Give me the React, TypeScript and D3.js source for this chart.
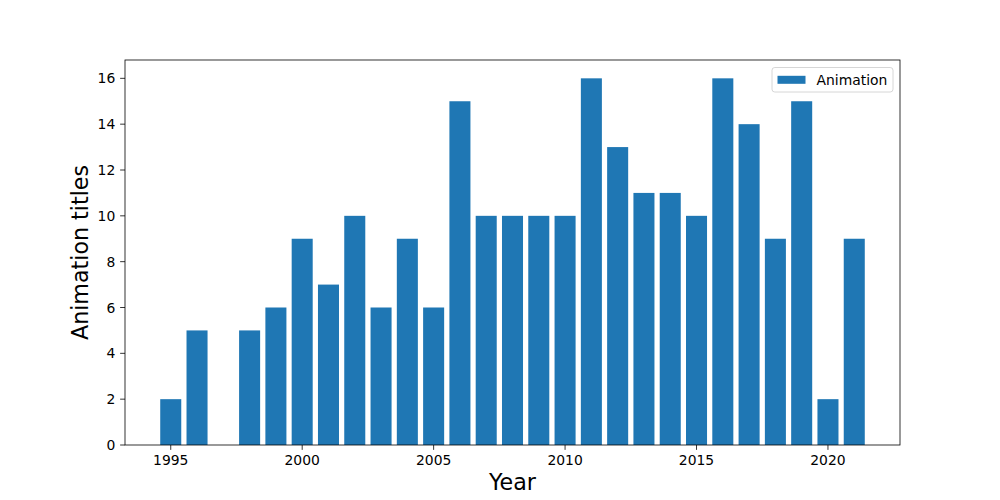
import React from "react";
import * as d3 from "d3";

const years = [1995, 1996, 1998, 1999, 2000, 2001, 2002, 2003, 2004, 2005, 2006, 2007, 2008, 2009, 2010, 2011, 2012, 2013, 2014, 2015, 2016, 2017, 2018, 2019, 2020, 2021];
const counts = [2, 5, 5, 6, 9, 7, 10, 6, 9, 6, 15, 10, 10, 10, 10, 16, 13, 11, 11, 10, 16, 14, 9, 15, 2, 9];
const xTicks = [1995, 2000, 2005, 2010, 2015, 2020];
const yTicks = [0, 2, 4, 6, 8, 10, 12, 14, 16];
const seriesName = "Animation";
const xLabel = "Year";
const yLabel = "Animation titles";

export default function App() {
  const W = 1000, H = 500;
  const L = 125, R = 900, T = 60, B = 445;
  const barW = 0.8;
  const xmin = d3.min(years)! - barW / 2, xmax = d3.max(years)! + barW / 2;
  const pad = (xmax - xmin) * 0.05;
  const x = d3.scaleLinear().domain([xmin - pad, xmax + pad]).range([L, R]);
  const ymax = d3.max(counts)! * 1.05;
  const y = d3.scaleLinear().domain([0, ymax]).range([B, T]);
  const color = "#1f77b4";
  const font = "DejaVu Sans, sans-serif";
  const fs = 13.9;
  return (
    <svg width={W} height={H} style={{ position: "absolute", left: 0, top: 0, background: "#fff" }} fontFamily={font}>
      <rect x={0} y={0} width={W} height={H} fill="#fff" />
      {years.map((yr, i) => (
        <rect key={yr} x={x(yr - barW / 2)} y={y(counts[i])} width={x(yr + barW / 2) - x(yr - barW / 2)} height={B - y(counts[i])} fill={color} />
      ))}
      <rect x={L} y={T} width={R - L} height={B - T} fill="none" stroke="#000" strokeWidth={0.8} />
      {xTicks.map((t) => (
        <g key={t}>
          <line x1={x(t)} x2={x(t)} y1={B} y2={B + 4.86} stroke="#000" strokeWidth={0.8} />
          <text x={x(t)} y={B + 4.86 + 4.86 + fs * 0.76} textAnchor="middle" fontSize={fs}>{t}</text>
        </g>
      ))}
      {yTicks.map((t) => (
        <g key={t}>
          <line x1={L - 4.86} x2={L} y1={y(t)} y2={y(t)} stroke="#000" strokeWidth={0.8} />
          <text x={L - 4.86 - 4.86} y={y(t)} dy="0.36em" textAnchor="end" fontSize={fs}>{t}</text>
        </g>
      ))}
      <text x={(L + R) / 2} y={490} textAnchor="middle" fontSize={22.2}>{xLabel}</text>
      <text transform={`translate(88,${(T + B) / 2}) rotate(-90)`} textAnchor="middle" fontSize={22.2}>{yLabel}</text>
      <g>
        <rect x={772} y={67.5} width={121} height={24.5} rx={2.8} fill="#fff" fillOpacity={0.8} stroke="#cccccc" strokeWidth={0.8} />
        <rect x={777.5} y={75.8} width={28} height={8} fill={color} />
        <text x={816.5} y={79.5} dy="0.36em" fontSize={fs}>{seriesName}</text>
      </g>
    </svg>
  );
}
